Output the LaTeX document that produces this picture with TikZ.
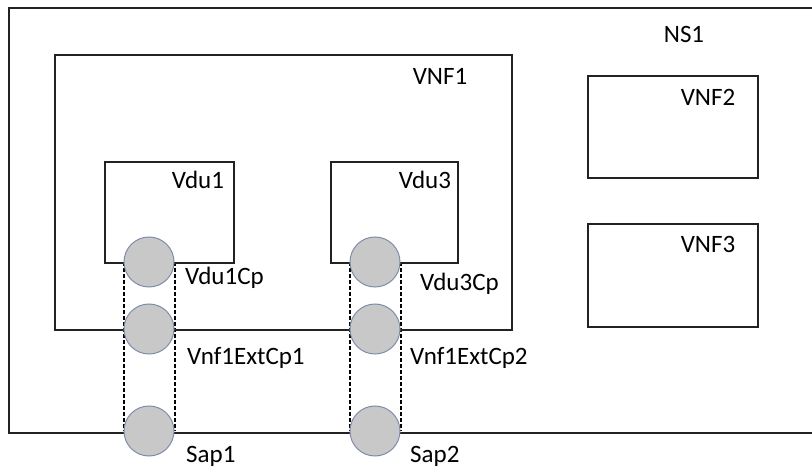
\documentclass[tikz,border=0pt]{standalone}
\usepackage{fontspec}
\setmainfont{Carlito}
\usetikzlibrary{backgrounds}
\definecolor{cpfill}{HTML}{C8C8C8}
\definecolor{cpedge}{HTML}{7F8CAA}
\definecolor{linec}{HTML}{222222}
\begin{document}
\begin{tikzpicture}[x=1pt,y=-1pt,
  box/.style={draw=linec,line width=1.6pt,anchor=north west,inner sep=0pt},
  lbl/.style={inner sep=0pt,font=\fontsize{25}{30}\selectfont},
  cp/.style={circle,draw=cpedge,line width=1pt,fill=cpfill,minimum size=50pt,inner sep=0pt},
  link/.style={draw=black,line width=2pt,dash pattern=on 4pt off 2pt}]
\useasboundingbox (0,0) rectangle (812,470);
\clip (0,0) rectangle (812,470);
% boxes
\node[box,minimum width=830pt,minimum height=425pt] (ns1) at (8,7) {};
\node[box,minimum width=457pt,minimum height=275pt] (vnf1) at (54,54) {};
\node[box,minimum width=170pt,minimum height=102pt] (vnf2) at (587,75) {};
\node[box,minimum width=170pt,minimum height=103pt] (vnf3) at (587,223) {};
\node[box,minimum width=129pt,minimum height=101pt] (vdu1) at (104,161) {};
\node[box,minimum width=127pt,minimum height=101pt] (vdu3) at (330,161) {};
% labels
\node[lbl,anchor=base] (tns1) at (684,43) {NS1};
\node[lbl,anchor=base] (tvnf1) at (440,85) {VNF1};
\node[lbl,anchor=base] (tvnf2) at (708,106) {VNF2};
\node[lbl,anchor=base] (tvnf3) at (708,253) {VNF3};
\node[lbl,anchor=base] (tvdu1) at (198,189) {Vdu1};
\node[lbl,anchor=base] (tvdu3) at (425,189) {Vdu3};
% connection points
\node[cp] (vdu1cp) at (149,262) {};
\node[cp] (ext1) at (149,329) {};
\node[cp] (sap1) at (149,431) {};
\node[cp] (vdu3cp) at (375,262) {};
\node[cp] (ext2) at (375,329) {};
\node[cp] (sap2) at (375,431) {};
\begin{scope}[on background layer]
\draw[link] (vdu1cp.west) -- (sap1.west);
\draw[link] (vdu1cp.east) -- (sap1.east);
\draw[link] (vdu3cp.west) -- (sap2.west);
\draw[link] (vdu3cp.east) -- (sap2.east);
\end{scope}
\node[lbl,anchor=base west] (lvdu1cp) at (185,285) {Vdu1Cp};
\node[lbl,anchor=base west] (lext1) at (187,365) {Vnf1ExtCp1};
\node[lbl,anchor=base west] (lsap1) at (186,463) {Sap1};
\node[lbl,anchor=base west] (lvdu3cp) at (420,291) {Vdu3Cp};
\node[lbl,anchor=base west] (lext2) at (410,365) {Vnf1ExtCp2};
\node[lbl,anchor=base west] (lsap2) at (410,463) {Sap2};
\end{tikzpicture}
\end{document}
